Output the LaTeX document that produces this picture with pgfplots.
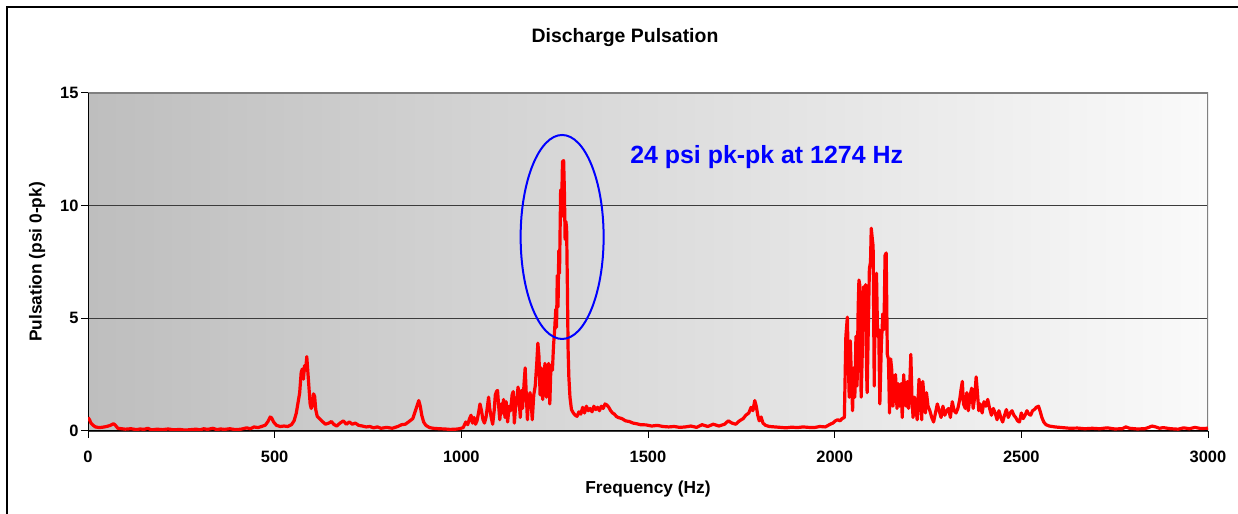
\documentclass[border=0pt]{standalone}
\usepackage{fontspec}
\setmainfont{Liberation Sans}
\usepackage{pgfplots}
\pgfplotsset{compat=1.18}
\definecolor{bgleft}{RGB}{190,190,190}
\definecolor{bgright}{RGB}{250,250,250}
\definecolor{gridc}{RGB}{60,60,60}
\definecolor{borderc}{RGB}{128,128,128}
\begin{document}
\begin{tikzpicture}[x=1bp,y=1bp]
\useasboundingbox (0,0) rectangle (1238,514);
\draw[line width=1.5bp] (7,0) -- (7,507) -- (1238,507);
\node[font=\bfseries\fontsize{19.5}{22}\selectfont] at (625,476) {Discharge Pulsation};
\begin{axis}[
  at={(88bp,83bp)}, anchor=south west,
  scale only axis, width=1120bp, height=338bp,
  xmin=0, xmax=3000, ymin=0, ymax=15,
  xtick={0,500,...,3000}, ytick={0,5,10,15},
  ymajorgrids, grid style={draw=gridc, line width=1.2bp},
  axis line style={draw=none},
  tick align=outside, xtick pos=bottom, ytick pos=left,
  major tick length=7bp, tick style={black, line width=1bp},
  axis background/.style={shade, left color=bgleft, right color=bgright},
  ticklabel style={font=\bfseries\fontsize{16.5}{18}\selectfont},
  /pgf/number format/assume math mode=true,
  scaled ticks=false, xticklabel style={/pgf/number format/1000 sep={}, yshift=-10bp},
  yticklabel style={xshift=1bp},
  xlabel={Frequency (Hz)}, ylabel={Pulsation (psi 0-pk)},
  label style={font=\bfseries\fontsize{17.4}{20}\selectfont},
  xlabel style={at={(axis description cs:0.5,-0.1716)}, anchor=center},
  ylabel style={at={(axis description cs:-0.0455,0.5)}, anchor=center},
]
\draw[borderc, line width=1.2bp] (rel axis cs:0,1) -- (rel axis cs:1,1) -- (rel axis cs:1,0);
\draw[black, line width=1.2bp] (rel axis cs:0,1) -- (rel axis cs:0,0) -- (rel axis cs:1,0);
\addplot[red, line width=3.2bp, line join=round] coordinates {
(0,0.60) (4,0.50) (8,0.35) (14,0.25) (20,0.18) (30,0.15) (40,0.17) (50,0.20) (60,0.25) (68,0.32) (72,0.28) (80,0.12) (90,0.10) (100,0.08) (115,0.10) (130,0.06) (140,0.09) (150,0.07) (160,0.12) (170,0.05) (185,0.08) (200,0.06) (215,0.09) (230,0.05) (245,0.07) (260,0.04) (275,0.06) (290,0.08) (300,0.05) (310,0.10) (320,0.07) (335,0.12) (345,0.06) (355,0.09) (365,0.07) (380,0.10) (395,0.06) (410,0.08) (425,0.14) (435,0.10) (445,0.18) (455,0.15) (465,0.20) (475,0.26) (482,0.42) (488,0.62) (492,0.58) (497,0.40) (505,0.25) (515,0.20) (525,0.22) (535,0.20) (545,0.28) (552,0.45) (558,0.80) (563,1.30) (567,1.70) (571,2.60) (574,2.75) (577,2.30) (580,2.90) (583,2.70) (586,3.30) (589,2.60) (592,1.90) (595,1.20) (598,1.00) (601,1.15) (604,1.65) (607,1.55) (610,0.95) (614,0.65) (620,0.55) (628,0.42) (636,0.30) (645,0.35) (652,0.42) (658,0.30) (666,0.22) (675,0.35) (684,0.45) (692,0.30) (700,0.40) (708,0.30) (716,0.35) (725,0.25) (735,0.22) (745,0.18) (755,0.20) (765,0.14) (775,0.18) (785,0.12) (800,0.16) (815,0.12) (830,0.20) (840,0.28) (850,0.30) (860,0.42) (870,0.55) (877,0.90) (882,1.15) (886,1.35) (890,1.10) (894,0.70) (899,0.40) (905,0.25) (915,0.15) (925,0.12) (940,0.10) (955,0.09) (970,0.07) (985,0.08) (995,0.10) (1005,0.15) (1012,0.40) (1017,0.28) (1022,0.55) (1026,0.70) (1030,0.35) (1034,0.60) (1038,0.30) (1042,0.45) (1046,0.80) (1050,1.20) (1054,0.90) (1058,0.50) (1062,0.35) (1066,0.60) (1070,1.10) (1073,1.50) (1076,1.00) (1080,0.60) (1084,0.30) (1088,0.90) (1091,1.60) (1094,1.75) (1097,1.80) (1100,1.10) (1103,0.50) (1107,1.20) (1110,0.80) (1113,1.40) (1117,0.60) (1120,1.30) (1124,0.40) (1128,1.10) (1132,0.90) (1136,1.60) (1139,1.75) (1142,0.35) (1145,1.00) (1149,1.50) (1152,1.95) (1155,1.30) (1158,0.60) (1161,1.80) (1164,1.00) (1168,2.10) (1171,2.80) (1174,1.60) (1177,0.50) (1180,1.40) (1184,1.70) (1187,1.30) (1190,0.50) (1194,1.60) (1198,2.00) (1202,3.00) (1205,3.90) (1208,3.30) (1211,1.60) (1214,2.80) (1218,1.40) (1221,2.20) (1224,3.00) (1228,1.50) (1231,2.60) (1234,3.00) (1237,1.20) (1240,2.90) (1244,2.70) (1247,3.80) (1250,4.50) (1253,5.40) (1255,4.60) (1257,6.90) (1259,5.50) (1261,8.00) (1263,7.00) (1266,10.70) (1268,9.50) (1271,11.95) (1274,12.00) (1276,10.70) (1278,8.50) (1280,9.30) (1282,9.00) (1284,6.50) (1286,3.60) (1288,2.40) (1291,1.50) (1295,0.95) (1300,0.80) (1305,0.70) (1310,0.65) (1315,0.85) (1320,0.75) (1325,1.05) (1330,0.80) (1335,1.10) (1340,0.90) (1345,1.00) (1350,0.85) (1355,1.10) (1360,0.95) (1365,1.05) (1370,0.90) (1375,1.10) (1380,1.00) (1385,1.20) (1390,1.15) (1395,1.05) (1400,0.90) (1405,0.80) (1410,0.75) (1415,0.65) (1420,0.60) (1430,0.55) (1440,0.45) (1450,0.42) (1460,0.35) (1470,0.32) (1480,0.28) (1495,0.27) (1510,0.22) (1525,0.25) (1540,0.20) (1555,0.18) (1570,0.20) (1585,0.16) (1600,0.18) (1615,0.22) (1630,0.16) (1645,0.28) (1660,0.20) (1675,0.30) (1690,0.22) (1705,0.30) (1715,0.45) (1725,0.35) (1735,0.30) (1745,0.45) (1755,0.55) (1762,0.70) (1770,0.80) (1776,1.05) (1781,0.90) (1786,1.35) (1790,1.10) (1794,0.70) (1798,0.45) (1803,0.62) (1808,0.35) (1815,0.25) (1825,0.20) (1840,0.18) (1855,0.16) (1870,0.14) (1885,0.17) (1900,0.15) (1915,0.18) (1930,0.16) (1945,0.15) (1960,0.20) (1975,0.18) (1988,0.30) (1995,0.35) (2002,0.45) (2008,0.50) (2014,0.45) (2020,0.55) (2026,0.60) (2030,4.20) (2034,5.05) (2036,3.40) (2039,1.50) (2042,4.00) (2045,2.20) (2048,0.90) (2051,2.80) (2054,1.50) (2057,4.20) (2060,2.00) (2063,5.50) (2065,6.70) (2067,6.50) (2069,4.00) (2071,1.50) (2074,3.50) (2077,6.40) (2080,4.50) (2083,6.50) (2085,3.00) (2087,1.70) (2090,4.50) (2093,7.20) (2096,7.50) (2098,9.00) (2101,8.50) (2103,8.20) (2106,2.00) (2109,6.60) (2112,7.00) (2115,4.20) (2118,4.50) (2121,1.20) (2125,3.80) (2129,5.20) (2132,4.50) (2135,7.80) (2138,7.90) (2141,3.40) (2144,3.20) (2147,0.80) (2150,3.20) (2153,2.70) (2156,1.10) (2160,2.00) (2163,2.50) (2167,1.00) (2170,2.10) (2174,1.10) (2178,2.10) (2181,0.60) (2185,2.50) (2188,1.20) (2192,1.10) (2195,2.20) (2198,1.00) (2201,2.00) (2204,3.40) (2207,1.50) (2210,0.60) (2214,1.50) (2218,1.00) (2221,0.50) (2226,2.30) (2230,1.20) (2233,0.50) (2236,2.20) (2240,1.40) (2243,0.80) (2246,1.70) (2250,1.10) (2255,0.90) (2260,0.60) (2265,0.40) (2270,0.80) (2275,1.20) (2280,0.90) (2285,0.60) (2290,1.10) (2295,0.70) (2300,0.90) (2305,1.00) (2310,0.60) (2315,1.30) (2320,0.90) (2325,0.80) (2330,1.00) (2335,1.40) (2339,1.90) (2342,2.20) (2345,1.20) (2350,1.00) (2354,1.70) (2358,0.90) (2363,1.60) (2367,1.90) (2371,1.00) (2375,1.50) (2379,2.40) (2382,1.80) (2386,0.90) (2390,1.20) (2395,0.80) (2400,1.30) (2405,1.10) (2410,1.40) (2415,1.00) (2420,0.70) (2425,1.00) (2430,0.80) (2435,0.50) (2440,0.90) (2445,0.60) (2450,0.40) (2455,0.70) (2460,0.95) (2465,0.60) (2470,0.80) (2475,0.90) (2480,0.70) (2485,0.60) (2490,0.45) (2495,0.40) (2500,0.80) (2505,0.55) (2510,0.70) (2515,0.90) (2520,0.75) (2525,0.70) (2530,0.90) (2535,0.95) (2540,1.05) (2546,1.10) (2550,0.90) (2555,0.60) (2560,0.40) (2566,0.28) (2575,0.22) (2590,0.18) (2610,0.15) (2630,0.12) (2650,0.13) (2670,0.10) (2690,0.12) (2710,0.10) (2730,0.14) (2750,0.09) (2770,0.10) (2780,0.18) (2790,0.12) (2810,0.09) (2830,0.10) (2840,0.15) (2850,0.22) (2860,0.18) (2870,0.12) (2880,0.15) (2900,0.10) (2920,0.08) (2935,0.14) (2950,0.10) (2965,0.16) (2980,0.11) (3000,0.12)
};
\draw[blue, line width=2bp] (axis cs:1270,8.61) ellipse [x radius=41.5bp, y radius=102bp];
\node[anchor=west, text=blue, inner sep=0pt, font=\bfseries\fontsize{25}{30}\selectfont] at (axis cs:1452,12.16) {24 psi pk-pk at 1274 Hz};
\end{axis}
\end{tikzpicture}
\end{document}
